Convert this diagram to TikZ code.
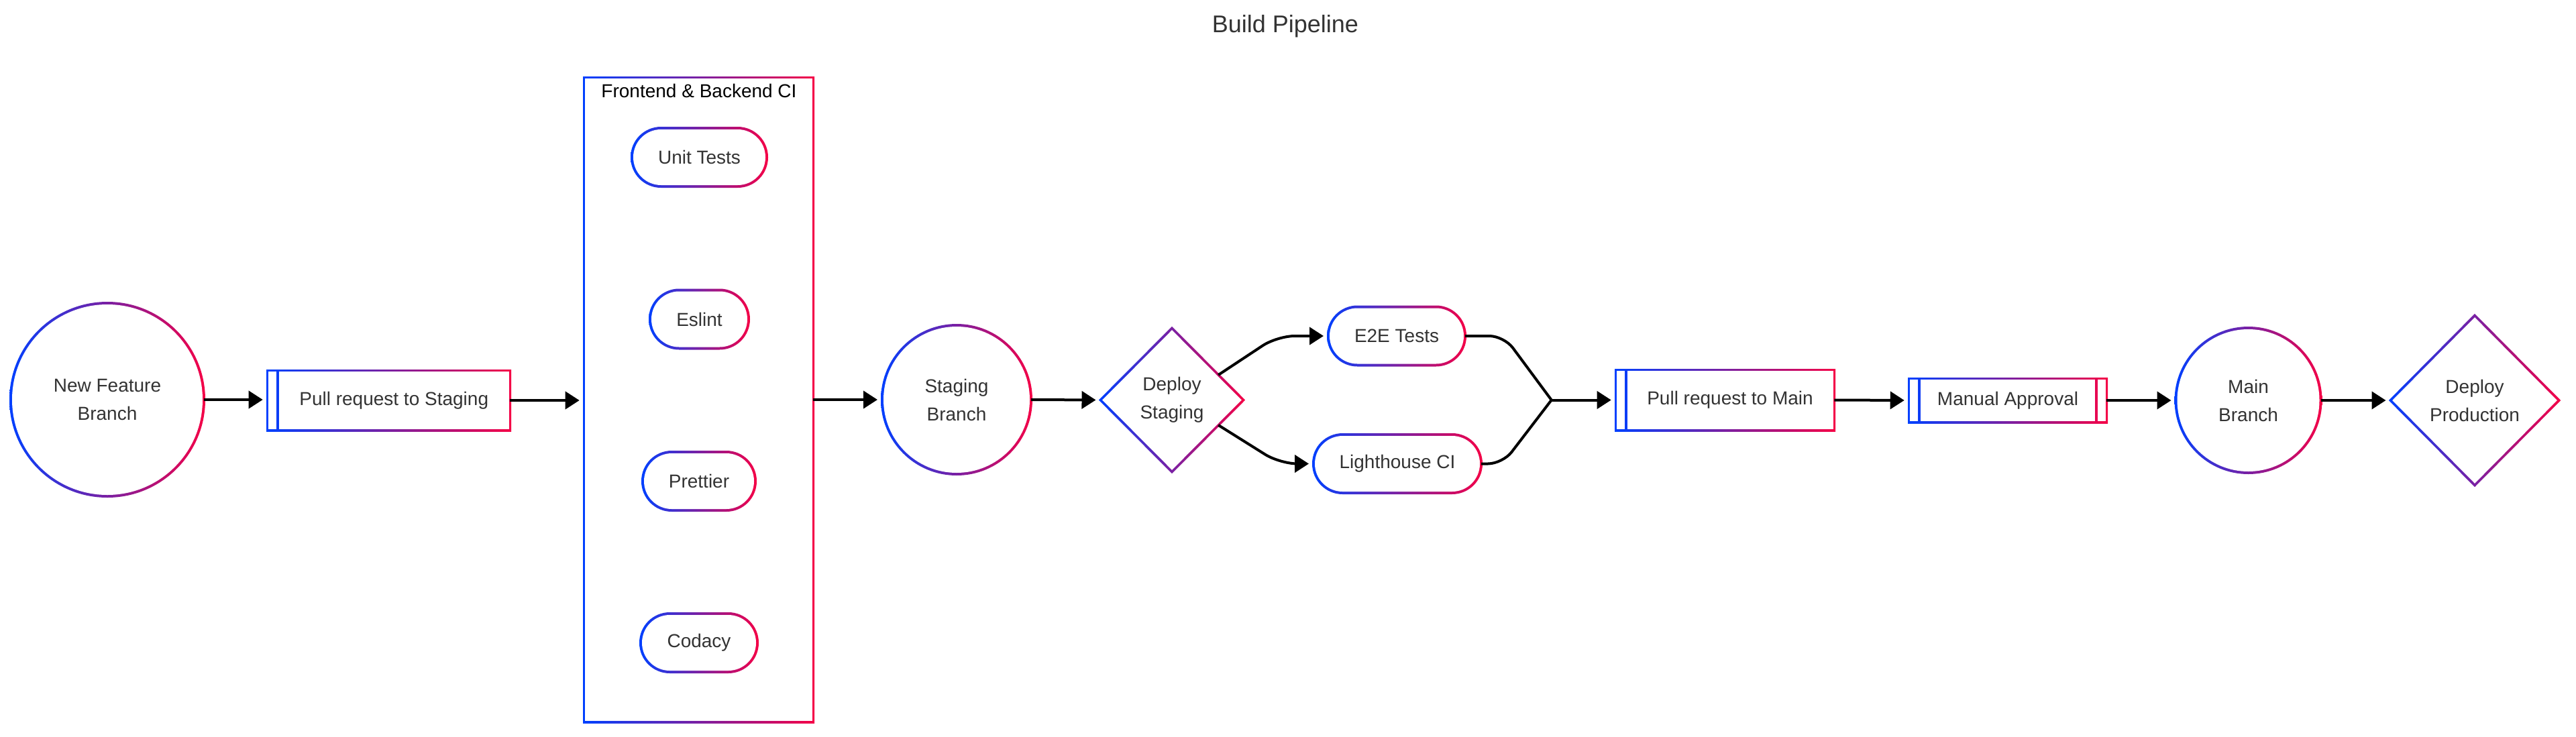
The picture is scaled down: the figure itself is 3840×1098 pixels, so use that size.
\documentclass[tikz,border=0pt]{standalone}
\usepackage{fontspec}
\setmainfont{Liberation Sans}
\usetikzlibrary{arrows.meta,shapes.geometric,calc,backgrounds}
\definecolor{gblue}{RGB}{0,64,255}
\definecolor{gred}{RGB}{245,0,70}
\definecolor{txtgray}{RGB}{51,51,51}

\tikzset{
  base/.style={inner sep=0pt, outer sep=0pt, font=\fontsize{28}{42}\selectfont, text=txtgray, align=center},
  rbox/.style={base, rectangle},
  cbox/.style={base, circle},
  dbox/.style={base, diamond},
  gshade/.style={left color=gblue, right color=gred},
  conn/.style={line width=4pt, black},
  arr/.style={conn, -{Triangle[length=21pt,width=26pt]}, shorten >=7pt},
}

% gradient outline of a rectangle node
\newcommand\gradrect[1]{%
  \begin{scope}[on background layer]
    \shade[gshade] ([shift={(-1.7pt,-1.7pt)}]#1.south west) rectangle ([shift={(1.7pt,1.7pt)}]#1.north east);
    \fill[white] ([shift={(1.7pt,1.7pt)}]#1.south west) rectangle ([shift={(-1.7pt,-1.7pt)}]#1.north east);
  \end{scope}}
% inner vertical line of a process box: node, offset, side (west/east)
\newcommand\gradvline[3]{%
  \begin{scope}[on background layer]
    \begin{scope}
      \clip ([shift={(#2-1.7pt,0pt)}]#1.south #3) rectangle ([shift={(#2+1.7pt,0pt)}]#1.north #3);
      \shade[gshade] ([shift={(-1.7pt,-1.7pt)}]#1.south west) rectangle ([shift={(1.7pt,1.7pt)}]#1.north east);
    \end{scope}
  \end{scope}}
% gradient outline of a circle node: node, outer radius, inner radius
\newcommand\gradcirc[3]{%
  \begin{scope}[on background layer]
    \begin{scope}
      \clip (#1.center) circle[radius=#2pt];
      \shade[gshade] ([shift={(-#2pt,-#2pt)}]#1.center) rectangle ([shift={(#2pt,#2pt)}]#1.center);
    \end{scope}
    \fill[white] (#1.center) circle[radius=#3pt];
  \end{scope}}
% gradient outline of a pill node: node, outer corner radius, inner corner radius
\newcommand\gradpill[3]{%
  \begin{scope}[on background layer]
    \begin{scope}[rounded corners=#2pt]
      \clip ([shift={(-2pt,-2pt)}]#1.south west) rectangle ([shift={(2pt,2pt)}]#1.north east);
      \shade[gshade] ([shift={(-2pt,-2pt)}]#1.south west) rectangle ([shift={(2pt,2pt)}]#1.north east);
    \end{scope}
    \fill[white, rounded corners=#3pt] ([shift={(2pt,2pt)}]#1.south west) rectangle ([shift={(-2pt,-2pt)}]#1.north east);
  \end{scope}}
% gradient outline of a diamond node
\newcommand\graddiam[1]{%
  \begin{scope}[on background layer]
    \begin{scope}
      \clip ([yshift=2.7pt]#1.north) -- ([xshift=2.7pt]#1.east) -- ([yshift=-2.7pt]#1.south) -- ([xshift=-2.7pt]#1.west) -- cycle;
      \shade[gshade] ([xshift=-2.7pt,yshift=-160pt]#1.west) rectangle ([xshift=2.7pt,yshift=160pt]#1.east);
    \end{scope}
    \fill[white] ([yshift=-2.7pt]#1.north) -- ([xshift=-2.7pt]#1.east) -- ([yshift=2.7pt]#1.south) -- ([xshift=2.7pt]#1.west) -- cycle;
  \end{scope}}

\begin{document}
\begin{tikzpicture}[x=1pt,y=-1pt]
  \begin{scope}[on background layer]
    \fill[white] (0,0) rectangle (3840,1098);
  \end{scope}
  \useasboundingbox (0,0) rectangle (3840,1098);

  % title
  \node[font=\fontsize{36}{43}\selectfont, text=txtgray, anchor=base] (title) at (1916,48) {Build Pipeline};

  % nodes
  \node[cbox, minimum size=288pt] (nfb) at (160,596) {New Feature\\Branch};
  \node[rbox, minimum width=361.6pt, minimum height=88.6pt] (prs) at (579.5,597) {\hspace*{15.5pt}Pull request to Staging};

  \node[rbox, minimum width=341.6pt, minimum height=960.6pt] (ci) at (1041.5,596) {};
  \node[font=\fontsize{28}{34}\selectfont, text=black, anchor=base] (cit) at (1042,145) {Frontend \& Backend CI};
  \node[rbox, minimum width=201pt, minimum height=87pt] (ut) at (1042.5,234.5) {Unit Tests};
  \node[rbox, minimum width=147pt, minimum height=87pt] (es) at (1042.5,476) {Eslint};
  \node[rbox, minimum width=168pt, minimum height=87pt] (pr) at (1042,717.5) {Prettier};
  \node[rbox, minimum width=174pt, minimum height=87pt] (co) at (1042,958.5) {Codacy};

  \node[cbox, minimum size=222pt] (sb) at (1426,596) {Staging\\Branch};
  \node[dbox, minimum width=213pt, minimum height=214pt] (ds) at (1747,596.5) {Deploy\\Staging};
  \node[rbox, minimum width=204pt, minimum height=87pt] (e2e) at (2082,501) {E2E Tests};
  \node[rbox, minimum width=250pt, minimum height=87pt] (lh) at (2083,691.5) {Lighthouse CI};
  \node[rbox, minimum width=325.6pt, minimum height=89.6pt] (prm) at (2571.5,596.5) {\hspace*{15pt}Pull request to Main};
  \node[rbox, minimum width=294.6pt, minimum height=64.6pt] (ma) at (2993,597) {Manual Approval};
  \node[cbox, minimum size=216pt] (mb) at (3351.5,597) {Main\\Branch};
  \node[dbox, minimum width=251pt, minimum height=253pt] (dp) at (3689,597) {Deploy\\Production};

  % gradient outlines
  \gradcirc{nfb}{146}{142}
  \gradrect{prs}
  \gradvline{prs}{15.5pt}{west}
  \gradrect{ci}
  \gradpill{ut}{45.4}{41.4}
  \gradpill{es}{45.4}{41.4}
  \gradpill{pr}{45.4}{41.4}
  \gradpill{co}{45.4}{41.4}
  \gradcirc{sb}{113}{109}
  \graddiam{ds}
  \gradpill{e2e}{45.4}{41.4}
  \gradpill{lh}{45.4}{41.4}
  \gradrect{prm}
  \gradvline{prm}{15pt}{west}
  \gradrect{ma}
  \gradvline{ma}{15.5pt}{west}
  \gradvline{ma}{-15.5pt}{east}
  \gradcirc{mb}{110}{106}
  \graddiam{dp}

  % connectors
  \draw[arr] (nfb.east) -- (nfb.east -| prs.west);
  \draw[arr] (prs.east) -- (prs.east -| ci.west);
  \draw[arr] (ci.east) -- (ci.east -| sb.west);
  \draw[arr] (sb.east) -- (ds.west);
  \coordinate (dsA) at ($(ds.north)!0.65!(ds.east)$);
  \coordinate (dsB) at ($(ds.south)!0.65!(ds.east)$);
  \draw[arr, rounded corners=26pt] (dsA) -- ([xshift=-76pt]e2e.west) -- (e2e.west);
  \draw[arr, rounded corners=26pt] (dsB) -- ([xshift=-50pt]lh.west) -- (lh.west);
  \coordinate (join) at ([xshift=-96pt]prm.west);
  \draw[conn, rounded corners=22pt] (e2e.east) -- ([xshift=58pt]e2e.east) -- (join);
  \draw[conn, rounded corners=22pt] (lh.east) -- ([xshift=32pt]lh.east) -- (join);
  \draw[arr] (join) -- (prm.west);
  \draw[arr] (prm.east) -- (ma.west);
  \draw[arr] (ma.east) -- (mb.west);
  \draw[arr] (mb.east) -- (dp.west);
\end{tikzpicture}
\end{document}
